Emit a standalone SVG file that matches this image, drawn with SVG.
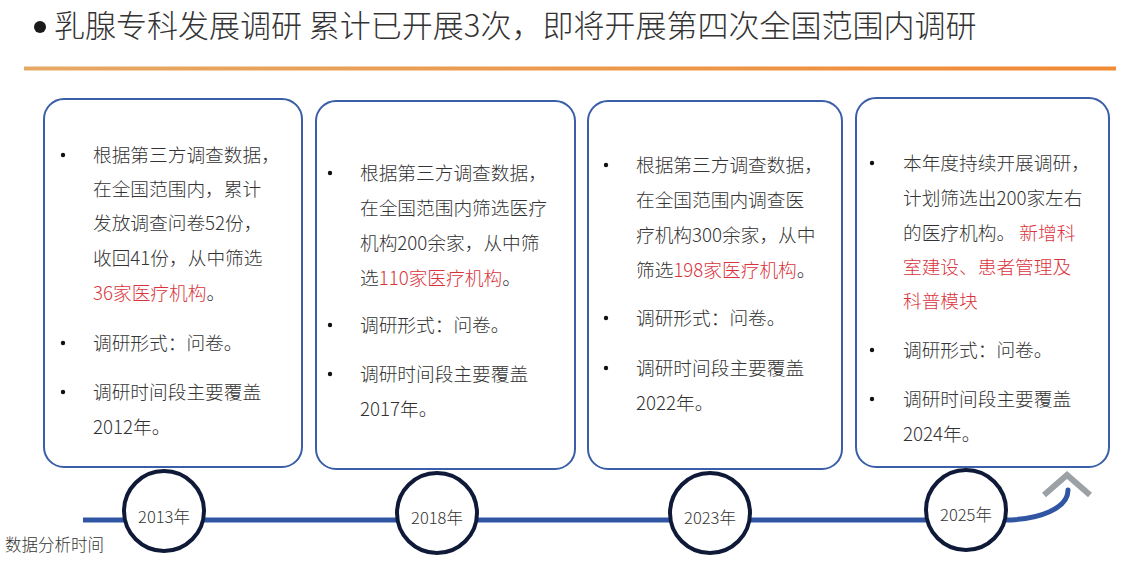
<svg xmlns="http://www.w3.org/2000/svg" width="1125" height="576" viewBox="0 0 1125 576">
<defs>
<linearGradient id="og" x1="0" y1="0" x2="1" y2="0">
<stop offset="0" stop-color="#e6a965"/>
<stop offset="1" stop-color="#f28a35"/>
</linearGradient>
<style>
text{font-family:"Noto Sans CJK SC","Noto Sans",sans-serif;fill:#333;font-weight:300;}
.t{font-size:18.7px;}
.r{fill:#d9343c;}
.box{fill:#fff;stroke:#3a5ea8;stroke-width:2;}
.dot{fill:#111;}
.yr{fill:#fff;stroke:#0e1a38;stroke-width:4;}
.yt{font-size:16.5px;text-anchor:middle;}
</style>
</defs>
<rect width="1125" height="576" fill="#fff"/>
<g id="title">
<circle cx="40" cy="27" r="6" fill="#1a1a1a"/>
<text x="54" y="37" style="font-size:31px">乳腺专科发展调研 累计已开展3次，即将开展第四次全国范围内调研</text>
<rect x="24" y="66.5" width="1092" height="4" fill="url(#og)"/>
</g>
<g id="connectors">
<line x1="83" y1="520" x2="1006" y2="520" stroke="#2f55a3" stroke-width="5"/>
<path d="M1004,520 C1040,520 1068,508 1068,490" fill="none" stroke="#2f55a3" stroke-width="5" stroke-linecap="round"/>
<polyline points="1044,495 1067,475 1090,495" fill="none" stroke="#9ca1a5" stroke-width="6"/>
</g>
<g id="box2013">
<rect class="box" x="44" y="99" width="258" height="368" rx="20"/>
<circle class="dot" cx="63" cy="155" r="2.2"/>
<text class="t" x="93" y="161.5">根据第三方调查数据，</text>
<text class="t" x="93" y="196">在全国范围内，累计</text>
<text class="t" x="93" y="230">发放调查问卷52份，</text>
<text class="t" x="93" y="265">收回41份，从中筛选</text>
<text class="t" x="93" y="300"><tspan class="r">36家医疗机构</tspan>。</text>
<circle class="dot" cx="63" cy="343" r="2.2"/>
<text class="t" x="93" y="349.5">调研形式：问卷。</text>
<circle class="dot" cx="63" cy="392" r="2.2"/>
<text class="t" x="93" y="398.5">调研时间段主要覆盖</text>
<text class="t" x="93" y="433.5">2012年。</text>
</g>
<g id="box2018">
<rect class="box" x="316" y="101" width="259" height="368" rx="20"/>
<circle class="dot" cx="330" cy="173" r="2.2"/>
<text class="t" x="360" y="179.5">根据第三方调查数据，</text>
<text class="t" x="360" y="214.5">在全国范围内筛选医疗</text>
<text class="t" x="360" y="249.5">机构200余家，从中筛</text>
<text class="t" x="360" y="284.5">选<tspan class="r">110家医疗机构</tspan>。</text>
<circle class="dot" cx="330" cy="325" r="2.2"/>
<text class="t" x="360" y="331.5">调研形式：问卷。</text>
<circle class="dot" cx="330" cy="374" r="2.2"/>
<text class="t" x="360" y="380.5">调研时间段主要覆盖</text>
<text class="t" x="360" y="415.5">2017年。</text>
</g>
<g id="box2023">
<rect class="box" x="588" y="101" width="254" height="368" rx="20"/>
<circle class="dot" cx="606" cy="165" r="2.2"/>
<text class="t" x="636" y="171.5">根据第三方调查数据，</text>
<text class="t" x="636" y="206.5">在全国范围内调查医</text>
<text class="t" x="636" y="241.5">疗机构300余家，从中</text>
<text class="t" x="636" y="276.5">筛选<tspan class="r">198家医疗机构</tspan>。</text>
<circle class="dot" cx="606" cy="318" r="2.2"/>
<text class="t" x="636" y="324.5">调研形式：问卷。</text>
<circle class="dot" cx="606" cy="368" r="2.2"/>
<text class="t" x="636" y="374.5">调研时间段主要覆盖</text>
<text class="t" x="636" y="409.5">2022年。</text>
</g>
<g id="box2025">
<rect class="box" x="856" y="98" width="253" height="369" rx="20"/>
<circle class="dot" cx="872" cy="163" r="2.2"/>
<text class="t" x="903" y="169.5">本年度持续开展调研，</text>
<text class="t" x="903" y="204.5">计划筛选出200家左右</text>
<text class="t" x="903" y="239.5">的医疗机构。 <tspan class="r">新增科</tspan></text>
<text class="t r" x="903" y="273.5">室建设、患者管理及</text>
<text class="t r" x="903" y="307.5">科普模块</text>
<circle class="dot" cx="872" cy="350" r="2.2"/>
<text class="t" x="903" y="356.5">调研形式：问卷。</text>
<circle class="dot" cx="872" cy="399" r="2.2"/>
<text class="t" x="903" y="405.5">调研时间段主要覆盖</text>
<text class="t" x="903" y="440.5">2024年。</text>
</g>
<g id="y2013">
<circle class="yr" cx="164" cy="511" r="40"/>
<text class="yt" x="164" y="523">2013年</text>
</g>
<g id="y2018">
<circle class="yr" cx="437" cy="513" r="40"/>
<text class="yt" x="437" y="524">2018年</text>
</g>
<g id="y2023">
<circle class="yr" cx="710" cy="513" r="40"/>
<text class="yt" x="710" y="524">2023年</text>
</g>
<g id="y2025">
<circle class="yr" cx="966" cy="510" r="40"/>
<text class="yt" x="966" y="521">2025年</text>
</g>
<g id="axislabel">
<text x="5" y="551" style="font-size:16.5px">数据分析时间</text>
</g>
</svg>
